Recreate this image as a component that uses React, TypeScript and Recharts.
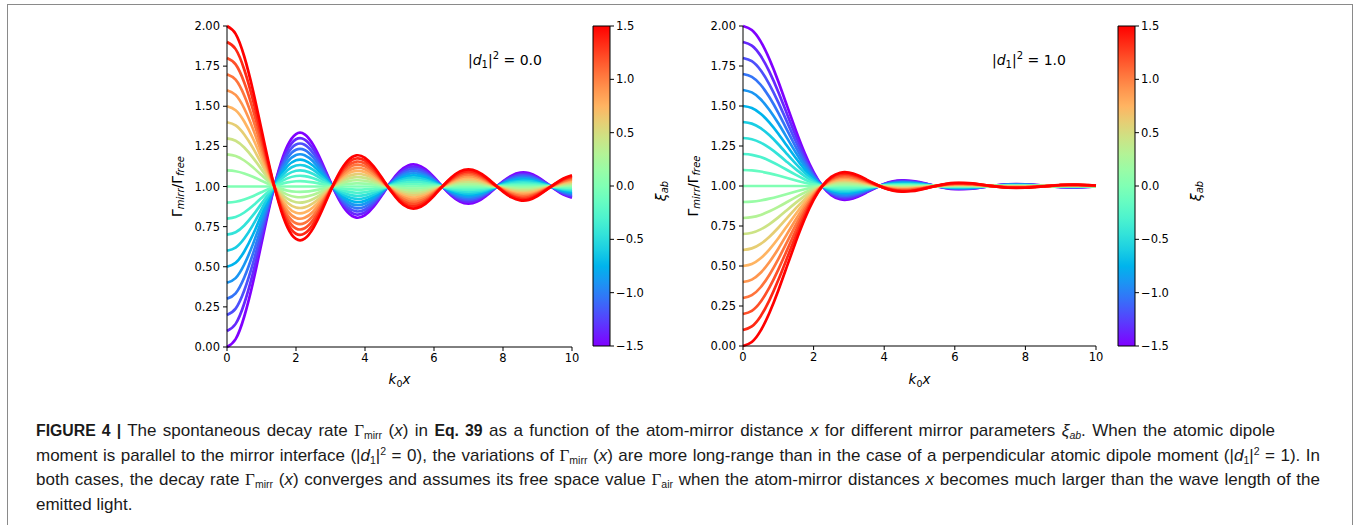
import React from 'react';
import { LineChart, Line, XAxis, YAxis, ComposedChart, ReferenceArea } from 'recharts';

// k0x sample positions
const X_VALUES = [0, 0.25, 0.5, 0.75, 1, 1.25, 1.5, 1.75, 2, 2.25, 2.5, 2.75, 3, 3.25, 3.5, 3.75, 4, 4.25, 4.5, 4.75, 5, 5.25, 5.5, 5.75, 6, 6.25, 6.5, 6.75, 7, 7.25, 7.5, 7.75, 8, 8.25, 8.5, 8.75, 9, 9.25, 9.5, 9.75, 10];

// Outermost curve (xi_ab = +1.5, red), |d1|^2 = 0.0
const LEFT_EDGE = [2.000, 1.951, 1.810, 1.601, 1.355, 1.109, 0.898, 0.747, 0.673, 0.675, 0.741, 0.849, 0.972, 1.083, 1.161, 1.194, 1.179, 1.126, 1.051, 0.972, 0.907, 0.869, 0.865, 0.892, 0.942, 1.002, 1.056, 1.094, 1.107, 1.094, 1.060, 1.014, 0.968, 0.932, 0.914, 0.917, 0.941, 0.977, 1.016, 1.050, 1.070];

// Outermost curve (xi_ab = +1.5, red), |d1|^2 = 1.0
const RIGHT_EDGE = [0.000, 0.025, 0.096, 0.208, 0.347, 0.501, 0.654, 0.795, 0.913, 1.001, 1.057, 1.083, 1.084, 1.067, 1.040, 1.012, 0.987, 0.971, 0.965, 0.967, 0.976, 0.989, 1.002, 1.013, 1.019, 1.019, 1.016, 1.009, 1.001, 0.994, 0.989, 0.988, 0.989, 0.993, 0.998, 1.002, 1.007, 1.008, 1.008, 1.006, 1.003];

// Mirror parameters xi_ab (one curve each)
const XI_VALUES = [-1.5, -1.35, -1.2, -1.05, -0.9, -0.75, -0.6, -0.45, -0.3, -0.15, 0, 0.15, 0.3, 0.45, 0.6, 0.75, 0.9, 1.05, 1.2, 1.35, 1.5];

// Values at k0x = 0 of each curve (same order as XI_VALUES)
const LEFT_START = [0.0, 0.1, 0.2, 0.3, 0.4, 0.5, 0.6, 0.7, 0.8, 0.9, 1.0, 1.1, 1.2, 1.3, 1.4, 1.5, 1.6, 1.7, 1.8, 1.9, 2.0];
const RIGHT_START = [2.0, 1.9, 1.8, 1.7, 1.6, 1.5, 1.4, 1.3, 1.2, 1.1, 1.0, 0.9, 0.8, 0.7, 0.6, 0.5, 0.4, 0.3, 0.2, 0.1, 0.0];

const Y_TICKS = [0, 0.25, 0.5, 0.75, 1, 1.25, 1.5, 1.75, 2];
const X_TICKS = [0, 2, 4, 6, 8, 10];
const CBAR_TICKS = [-1.5, -1, -0.5, 0, 0.5, 1, 1.5];

const RAINBOW = ['#8000ff', '#6628fe', '#4d4ffc', '#3374f8', '#1a96f3', '#00b4ec', '#1acee3', '#33e3d9', '#4df3ce', '#66fcc2', '#80ffb4', '#99fca6', '#b3f396', '#cce385', '#e6ce74', '#ffb462', '#ff964f', '#ff743c', '#ff4f28', '#ff2814', '#ff0000'];

function buildTable(edge: number[], start: number[]) {
  const e0 = edge[0] - 1;
  return X_VALUES.map((x, j) => {
    const row: Record<string, number> = { x };
    start.forEach((s, i) => {
      row['c' + i] = 1 + ((s - 1) * (edge[j] - 1)) / e0;
    });
    return row;
  });
}

const LEFT_DATA = buildTable(LEFT_EDGE, LEFT_START);
const RIGHT_DATA = buildTable(RIGHT_EDGE, RIGHT_START);
const CBAR_DATA = [{ x: 0, y: -1.5 }, { x: 1, y: 1.5 }];

const FONT = "'DejaVu Sans', sans-serif";
const tickStyle = { fill: '#000', fontSize: 11.5, fontFamily: FONT };

function Panel({ data, width, margin }: { data: Record<string, number>[]; width: number; margin: any }) {
  return (
    <LineChart width={width} height={400} data={data} margin={margin}>
      <XAxis dataKey="x" type="number" domain={[0, 10]} ticks={X_TICKS} tick={tickStyle}
        tickSize={4} tickMargin={3} stroke="#000" height={30} interval={0} />
      <XAxis xAxisId="top" orientation="top" type="number" domain={[0, 10]} tick={false}
        tickLine={false} stroke="#000" height={0} />
      <YAxis type="number" domain={[0, 2]} ticks={Y_TICKS} tick={tickStyle} tickSize={4} tickMargin={3}
        stroke="#000" width={60} interval={0} tickFormatter={(v: number) => v.toFixed(2)} />
      <YAxis yAxisId="right" orientation="right" type="number" domain={[0, 2]} tick={false}
        tickLine={false} stroke="#000" width={0} />
      {XI_VALUES.map((xi, i) => (
        <Line key={xi} type="natural" dataKey={'c' + i} stroke={RAINBOW[i]} strokeWidth={2.7}
          dot={false} activeDot={false} isAnimationActive={false} />
      ))}
    </LineChart>
  );
}

function ColorBar({ width, margin }: { width: number; margin: any }) {
  return (
    <ComposedChart width={width} height={400} data={CBAR_DATA} margin={margin}>
      <XAxis dataKey="x" type="number" domain={[0, 1]} hide />
      <YAxis dataKey="y" orientation="right" type="number" domain={[-1.5, 1.5]} ticks={CBAR_TICKS}
        tick={tickStyle} tickSize={4} tickMargin={2} axisLine={false} stroke="#000" width={40} interval={0}
        tickFormatter={(v: number) => v.toFixed(1).replace('-', '\u2212')} />
      <ReferenceArea x1={0} x2={1} y1={-1.5} y2={1.5} fill="url(#rainbowGrad)" fillOpacity={1}
        stroke="#000" strokeWidth={1} ifOverflow="visible" />
    </ComposedChart>
  );
}

const abs = (left: number, top: number): React.CSSProperties => ({ position: 'absolute', left, top });

function YLabel({ x, y }: { x: number; y: number }) {
  return (
    <text transform={`translate(${x},${y}) rotate(-90)`} textAnchor="middle" dominantBaseline="central"
      fontFamily={FONT} fontSize={14} fill="#000">
      Γ<tspan fontStyle="italic" fontSize={10} dy={3}>mirr</tspan>
      <tspan dy={-3}>/Γ</tspan>
      <tspan fontStyle="italic" fontSize={10} dy={3}>free</tspan>
    </text>
  );
}

function XiLabel({ x, y }: { x: number; y: number }) {
  return (
    <text transform={`translate(${x},${y}) rotate(-90)`} textAnchor="middle" dominantBaseline="central"
      fontFamily={FONT} fontSize={14} fill="#000">
      <tspan fontStyle="italic">ξ</tspan>
      <tspan fontStyle="italic" fontSize={10} dy={3}>ab</tspan>
    </text>
  );
}

function XLabel({ x, y }: { x: number; y: number }) {
  return (
    <text x={x} y={y} textAnchor="middle" fontFamily={FONT} fontSize={13.5} fill="#000">
      <tspan fontStyle="italic">k</tspan>
      <tspan fontSize={9.5} dy={3}>0</tspan>
      <tspan fontStyle="italic" dy={-3}>x</tspan>
    </text>
  );
}

function Note({ x, y, value }: { x: number; y: number; value: string }) {
  return (
    <text x={x} y={y} fontFamily={FONT} fontSize={14} fill="#000">
      |<tspan fontStyle="italic">d</tspan>
      <tspan fontSize={10} dy={3}>1</tspan>
      <tspan dy={-3}>|</tspan>
      <tspan fontSize={10} dy={-6}>2</tspan>
      <tspan dy={6}>{' = ' + value}</tspan>
    </text>
  );
}

const subStyle: React.CSSProperties = { fontSize: '0.62em', position: 'relative', top: '0.3em', lineHeight: 0 };
const supStyle: React.CSSProperties = { fontSize: '0.62em', position: 'relative', top: '-0.55em', lineHeight: 0 };

const G = ({ sub }: { sub: string }) => (
  <span>
    <span style={{ fontFamily: "'Liberation Serif', serif" }}>Γ</span>
    <span style={subStyle}>{sub}</span>
  </span>
);
const I = ({ children }: { children: React.ReactNode }) => <i>{children}</i>;
const D1 = ({ v }: { v: string }) => (
  <span>
    (|<I>d</I><span style={subStyle}>1</span>|<span style={supStyle}>2</span> = {v})
  </span>
);

export default function App() {
  const baseLine: React.CSSProperties = {
    whiteSpace: 'nowrap', height: 24.5, lineHeight: '24.5px', textAlign: 'justify', textAlignLast: 'justify',
  };
  const bold: React.CSSProperties = { fontSize: 15.8 };
  return (
    <div style={{ position: 'absolute', left: 0, top: 0, width: 1356, height: 525, background: '#fff', overflow: 'hidden' }}>
      <svg width={0} height={0} style={{ position: 'absolute' }}>
        <defs>
          <linearGradient id="rainbowGrad" x1="0" y1="1" x2="0" y2="0">
            {RAINBOW.map((c, i) => (
              <stop key={i} offset={i / (RAINBOW.length - 1)} stopColor={c} />
            ))}
          </linearGradient>
        </defs>
      </svg>
      <div style={abs(0, 0)}>
        <Panel data={LEFT_DATA} width={600} margin={{ top: 26, right: 28, bottom: 23, left: 167 }} />
      </div>
      <div style={abs(600, 0)}>
        <Panel data={RIGHT_DATA} width={520} margin={{ top: 26, right: 24, bottom: 24, left: 83 }} />
      </div>
      <div style={abs(560, 0)}>
        <ColorBar width={100} margin={{ top: 26, right: 10, bottom: 54, left: 33 }} />
      </div>
      <div style={abs(1085, 0)}>
        <ColorBar width={100} margin={{ top: 26, right: 10, bottom: 54, left: 33 }} />
      </div>
      <svg width={1356} height={525} style={{ position: 'absolute', left: 0, top: 0, pointerEvents: 'none' }}>
        <rect x={7.5} y={4.5} width={1345} height={540} fill="none" stroke="#8a8a8a" strokeWidth={1} />
        <YLabel x={177} y={186.5} />
        <YLabel x={693} y={186} />
        <XiLabel x={661} y={191} />
        <XiLabel x={1196} y={191} />
        <XLabel x={399.5} y={384} />
        <XLabel x={919.5} y={384} />
        <Note x={468} y={65} value="0.0" />
        <Note x={992} y={65} value="1.0" />
      </svg>
      <div style={{ position: 'absolute', left: 36, top: 419, fontFamily: "'Liberation Sans', Arial, sans-serif", fontSize: 17, color: '#1a1a1a' }}>
        <div style={{ ...baseLine, width: 1239 }}>
          <b style={bold}>FIGURE 4 |</b> The spontaneous decay rate <G sub="mirr" /> (<I>x</I>) in <b style={bold}>Eq. 39</b> as a function of the atom-mirror distance <I>x</I> for different mirror parameters <I>ξ</I><span style={subStyle}><I>ab</I></span>. When the atomic dipole
        </div>
        <div style={{ ...baseLine, width: 1284 }}>
          moment is parallel to the mirror interface <D1 v="0" />, the variations of <G sub="mirr" /> (<I>x</I>) are more long-range than in the case of a perpendicular atomic dipole moment <D1 v="1" />. In
        </div>
        <div style={{ ...baseLine, width: 1284 }}>
          both cases, the decay rate <G sub="mirr" /> (<I>x</I>) converges and assumes its free space value <G sub="air" /> when the atom-mirror distances <I>x</I> becomes much larger than the wave length of the
        </div>
        <div style={{ ...baseLine, textAlign: 'left', textAlignLast: 'left' }}>emitted light.</div>
      </div>
    </div>
  );
}
